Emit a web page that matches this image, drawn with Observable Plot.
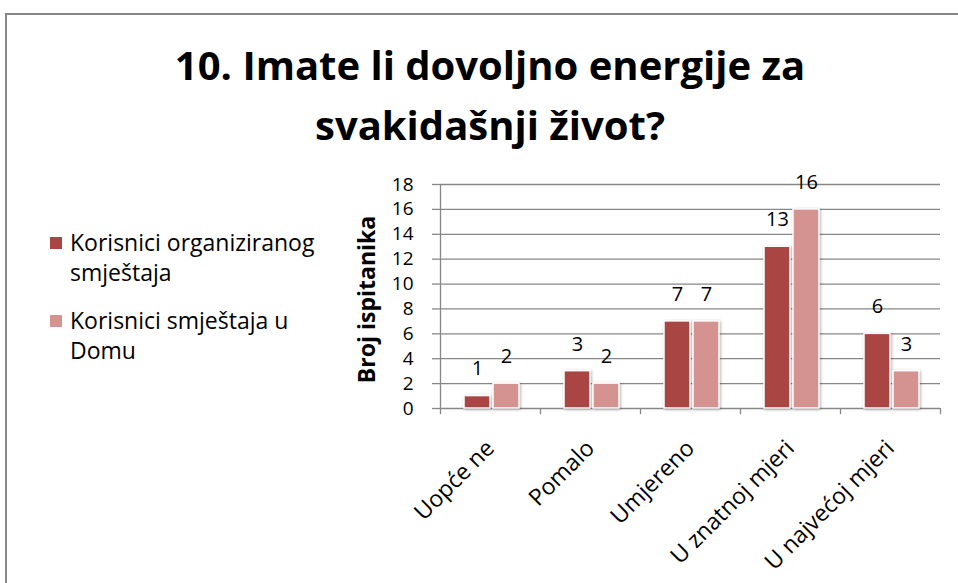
<!DOCTYPE html>
<html><head><meta charset="utf-8">
<script src="https://cdn.jsdelivr.net/npm/d3@7"></script>
<script src="https://cdn.jsdelivr.net/npm/@observablehq/plot@0.6"></script>
<style>
html,body{margin:0;padding:0;background:#fff;overflow:hidden;width:958px;height:583px;}
#wrap{position:relative;width:958px;height:583px;overflow:hidden;font-family:"Open Sans", sans-serif;color:#000;}
#frame{position:absolute;left:5px;top:13px;width:1000px;height:700px;border:2px solid #878787;box-sizing:border-box;}
#title{position:absolute;left:0;width:980px;top:35px;text-align:center;font-weight:bold;font-size:40px;line-height:60px;}
#chart{position:absolute;left:0;top:0;}
#chart g[aria-label="rect"] rect{filter:drop-shadow(1.5px 1.5px 1.5px rgba(0,0,0,0.3));}
.leg{position:absolute;left:70px;width:262px;font-size:23px;line-height:30px;}
.sw{position:absolute;left:50px;width:12px;height:12px;}
</style></head>
<body><div id="wrap">
<div id="frame"></div>
<div id="title"></div>
<div id="legend"></div>
<div id="chart"></div>
</div>
<script>
const titleLines = ["10. Imate li dovoljno energije za","svakidašnji život?"];
const categories = ["Uopće ne","Pomalo","Umjereno","U znatnoj mjeri","U najvećoj mjeri"];
const seriesNames = ["Korisnici organiziranog smještaja","Korisnici smještaja u Domu"];
const organizirani = [1,3,7,13,6];
const dom = [2,2,7,16,3];
const yTicks = [0,2,4,6,8,10,12,14,16,18];
const colors = ["#A94644","#D49391"];
const yLabel = "Broj ispitanika";

document.getElementById("title").innerHTML = titleLines.join("<br>");

const legend = document.getElementById("legend");
const legTops = [227, 305];
seriesNames.forEach((s,k)=>{
  const sw = document.createElement("div");
  sw.className = "sw"; sw.style.top = (legTops[k]+10)+"px"; sw.style.background = colors[k];
  legend.appendChild(sw);
  const t = document.createElement("div");
  t.className = "leg"; t.style.top = legTops[k]+"px"; t.textContent = s;
  legend.appendChild(t);
});

const rowsA = categories.map((c,i)=>({i, cat:c, v:organizirani[i]}));
const rowsB = categories.map((c,i)=>({i, cat:c, v:dom[i]}));
const grey = "#878787";

const plot = Plot.plot({
  width:958, height:583,
  marginLeft:440, marginRight:18, marginTop:184, marginBottom:175,
  style:{fontFamily:"'Open Sans', sans-serif", fontSize:"20px", color:"#000", background:"transparent", overflow:"visible"},
  x:{type:"linear", domain:[0,categories.length], axis:null},
  y:{domain:[0,18], axis:null},
  marks:[
    Plot.gridY(yTicks, {stroke:grey, strokeOpacity:1, strokeWidth:1.3}),
    Plot.ruleX([0], {y1:0, y2:18, stroke:grey, strokeWidth:1.3}),
    Plot.ruleX(d3.range(categories.length+1), {y1:0, y2:-0.5, stroke:grey, strokeWidth:1.3}),
    Plot.ruleY(yTicks, {x1:-0.08, x2:0, stroke:grey, strokeWidth:1.3}),
    Plot.rectY(rowsA, {x1:d=>d.i, x2:d=>d.i+1, y:"v", fill:colors[0], stroke:"white", strokeWidth:1.5, insetLeft:24, insetRight:50}),
    Plot.rectY(rowsB, {x1:d=>d.i, x2:d=>d.i+1, y:"v", fill:colors[1], stroke:"white", strokeWidth:1.5, insetLeft:53, insetRight:21}),
    Plot.text(rowsA, {x:d=>d.i+0.5, y:"v", text:d=>String(d.v), dx:-13, dy:-27, lineAnchor:"middle", fontSize:20, fill:"#000"}),
    Plot.text(rowsB, {x:d=>d.i+0.5, y:"v", text:d=>String(d.v), dx:16, dy:-27, lineAnchor:"middle", fontSize:20, fill:"#000"}),
    Plot.axisY(yTicks, {tickSize:0, tickPadding:27, label:null, fontSize:19, fill:"#000"}),
    Plot.axisX(categories.map((c,i)=>i+0.5), {tickFormat:d=>categories[Math.floor(d)], tickSize:0, tickPadding:36, tickRotate:-45, label:null, fontSize:23, fill:"#000"}),
    Plot.text([yLabel], {frameAnchor:"left", textAnchor:"middle", dx:-73, dy:3, rotate:-90, fontWeight:"bold", fontSize:23, fill:"#000"})
  ]
});
document.getElementById("chart").appendChild(plot);
</script>
</body></html>
